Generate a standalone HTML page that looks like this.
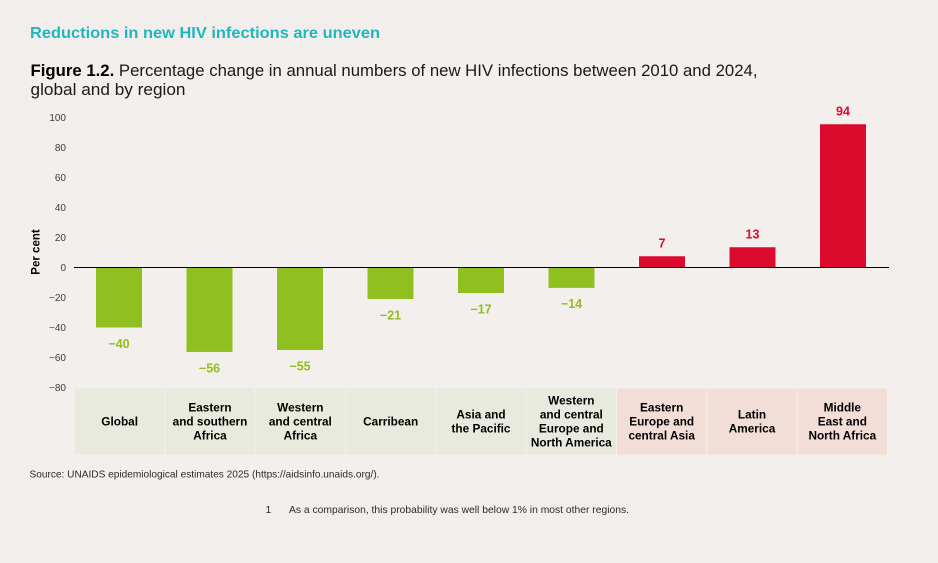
<!DOCTYPE html>
<html lang="en">
<head>
<meta charset="utf-8">
<title>Reductions in new HIV infections are uneven</title>
<style>
html,body{margin:0;padding:0;background:#f2eeeb;}
svg{display:block;font-family:"Liberation Sans",sans-serif;}
</style>
</head>
<body>
<svg id="chart" xmlns="http://www.w3.org/2000/svg" width="938" height="563" viewBox="0 0 938 563">
<rect x="0" y="0" width="938" height="563" fill="#f2eeeb"/>
<rect x="29" y="59" width="859" height="425" fill="#f3efec"/>
<text x="30" y="38" font-size="16" font-weight="700" fill="#1fb6bf" textLength="350" lengthAdjust="spacingAndGlyphs">Reductions in new HIV infections are uneven</text>
<text x="30.5" y="76" font-size="17" fill="#1a1a1a" textLength="727" lengthAdjust="spacingAndGlyphs"><tspan font-weight="700" fill="#000">Figure 1.2.</tspan> Percentage change in annual numbers of new HIV infections between 2010 and 2024,</text>
<text x="30.5" y="95" font-size="17" fill="#1a1a1a" textLength="155" lengthAdjust="spacingAndGlyphs">global and by region</text>
<text transform="translate(39.3,252) rotate(-90)" text-anchor="middle" font-size="11.5" font-weight="700" fill="#000">Per cent</text>
<g id="y-ticks"></g>
<g id="cells"></g>
<g id="bars"></g>
<line x1="74" x2="889" y1="267.5" y2="267.5" stroke="#000" stroke-width="1"/>
<g id="value-labels"></g>
<text x="29.5" y="477.5" font-size="10.5" fill="#2b2b2b" textLength="350" lengthAdjust="spacingAndGlyphs">Source: UNAIDS epidemiological estimates 2025 (https://aidsinfo.unaids.org/).</text>
<text x="265.5" y="513" font-size="10.5" fill="#2b2b2b">1</text>
<text x="289" y="513" font-size="10.5" fill="#2b2b2b" textLength="340" lengthAdjust="spacingAndGlyphs">As a comparison, this probability was well below 1% in most other regions.</text>
</svg>
<script>
const categories = [
  ["Global"],
  ["Eastern", "and southern", "Africa"],
  ["Western", "and central", "Africa"],
  ["Carribean"],
  ["Asia and", "the Pacific"],
  ["Western", "and central", "Europe and", "North America"],
  ["Eastern", "Europe and", "central Asia"],
  ["Latin", "America"],
  ["Middle", "East and", "North Africa"]
];
const barValues = [-40, -56.3, -55, -21, -17, -13.6, 7.5, 13.5, 95.5];
const printedValues = ["−40", "−56", "−55", "−21", "−17", "−14", "7", "13", "94"];
const tickValues = [100, 80, 60, 40, 20, 0, -20, -40, -60, -80];

const NS = "http://www.w3.org/2000/svg";
const y = function (v) { return 267.5 - v * 1.5; };
const slotWidth = 813 / categories.length;
const slot = function (i) { return 75 + i * slotWidth; };
const center = function (i) { return 119 + i * 90.5; };

function make(tag, attrs, parent) {
  const el = document.createElementNS(NS, tag);
  for (const k in attrs) el.setAttribute(k, attrs[k]);
  parent.appendChild(el);
  return el;
}

const tickGroup = document.getElementById("y-ticks");
tickValues.forEach(function (t) {
  const el = make("text", { x: 66, y: y(t) + 3.6, "text-anchor": "end", "font-size": 10, fill: "#3d3d3d" }, tickGroup);
  
  
  el.textContent = t < 0 ? "−" + Math.abs(t) : String(t);
});

const cellGroup = document.getElementById("cells");
const barGroup = document.getElementById("bars");
const labelGroup = document.getElementById("value-labels");

categories.forEach(function (lines, i) {
  const positive = barValues[i] >= 0;

  const cell = make("rect", { x: slot(i), y: 388.5, width: slotWidth - 1, height: 66, fill: i < 6 ? "#e8eade" : "#f2ddd7" }, cellGroup);
  
  

  const lineHeight = 14;
  const firstY = 421.5 - (lines.length - 1) * lineHeight / 2 + 4;
  lines.forEach(function (line, j) {
    const label = make("text", { x: slot(i) + (slotWidth - 1) / 2, y: firstY + j * lineHeight, "text-anchor": "middle", "font-size": 11.8, "font-weight": 700, fill: "#000" }, cellGroup);
    
    
    label.textContent = line;
  });

  const top = Math.min(y(barValues[i]), y(0));
  const height = Math.abs(y(barValues[i]) - y(0));
  const bar = make("rect", { x: center(i) - 23, y: top, width: 46, height: height, fill: positive ? "#dc0b2e" : "#90bf20" }, barGroup);
  
  

  const labelY = positive ? top - 13 + 4.3 : top + height + 16 + 4.3;
  const valueLabel = make("text", { x: center(i), y: labelY, "text-anchor": "middle", "font-size": 12.5, "font-weight": 700, fill: positive ? "#dc0b2e" : "#90bf20" }, labelGroup);
  
  
  valueLabel.textContent = printedValues[i];
});
</script>
</body>
</html>
